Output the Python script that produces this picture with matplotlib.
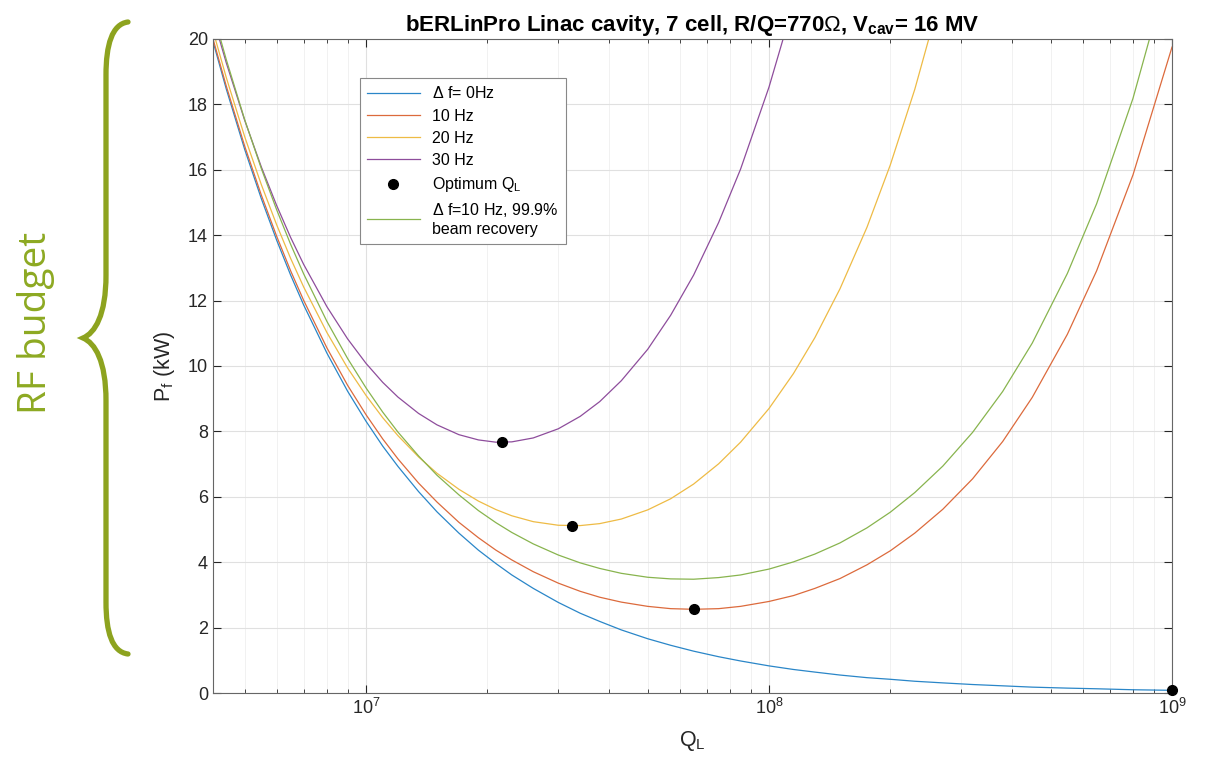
import matplotlib
matplotlib.use('Agg')
import matplotlib.pyplot as plt
from matplotlib.path import Path
from matplotlib.patches import PathPatch
from matplotlib.transforms import Affine2D

plt.rcParams['font.family'] = ['Liberation Sans', 'DejaVu Sans']
plt.rcParams['mathtext.fontset'] = 'custom'
plt.rcParams['mathtext.rm'] = 'Liberation Sans'
plt.rcParams['mathtext.it'] = 'Liberation Sans'
plt.rcParams['mathtext.bf'] = 'Liberation Sans:bold'

# 负载品质因数 Q_L（横轴）
ql = [4.17e6, 4.5e6, 5e6, 5.5e6, 6e6, 6.5e6, 7e6, 8e6, 9e6, 1e7,
      1.1e7, 1.2e7, 1.35e7, 1.5e7, 1.7e7, 1.9e7, 2.1e7, 2.3e7, 2.6e7, 3e7,
      3.4e7, 3.8e7, 4.3e7, 5e7, 5.7e7, 6.5e7, 7.5e7, 8.5e7, 1e8, 1.15e8,
      1.3e8, 1.5e8, 1.75e8, 2e8, 2.3e8, 2.7e8, 3.2e8, 3.8e8, 4.5e8, 5.5e8,
      6.5e8, 8e8, 1e9]

# 前向功率 P_f (kW)，各失谐量
pf_0hz = [19.93, 18.47, 16.62, 15.11, 13.85, 12.78, 11.87, 10.39, 9.23, 8.31,
          7.55, 6.93, 6.16, 5.54, 4.89, 4.37, 3.96, 3.61, 3.20, 2.77,
          2.44, 2.19, 1.93, 1.66, 1.46, 1.28, 1.11, 0.98, 0.83, 0.72,
          0.64, 0.55, 0.47, 0.42, 0.36, 0.31, 0.26, 0.22, 0.18, 0.15,
          0.13, 0.10, 0.083]
pf_10hz = [20.01, 18.56, 16.72, 15.22, 13.97, 12.91, 12.01, 10.55, 9.41, 8.51,
           7.77, 7.16, 6.42, 5.84, 5.22, 4.75, 4.37, 4.07, 3.71, 3.36,
           3.11, 2.93, 2.78, 2.65, 2.58, 2.56, 2.58, 2.65, 2.80, 2.98,
           3.20, 3.50, 3.92, 4.35, 4.89, 5.62, 6.55, 7.69, 9.04, 10.97,
           12.91, 15.84, 19.75]
pf_20hz = [20.26, 18.82, 17.01, 15.54, 14.32, 13.29, 12.42, 11.02, 9.94, 9.10,
           8.42, 7.87, 7.22, 6.72, 6.23, 5.87, 5.61, 5.42, 5.24, 5.13,
           5.12, 5.18, 5.32, 5.60, 5.94, 6.39, 7.01, 7.67, 8.70, 9.77,
           10.87, 12.36, 14.24, 16.15, 18.46, 21.55]
pf_30hz = [20.67, 19.27, 17.51, 16.08, 14.91, 13.93, 13.11, 11.81, 10.83, 10.08,
           9.50, 9.05, 8.55, 8.20, 7.90, 7.74, 7.67, 7.68, 7.80, 8.08,
           8.46, 8.91, 9.55, 10.51, 11.55, 12.78, 14.39, 16.02, 18.53, 21.08]
pf_recovery = [20.82, 19.37, 17.53, 16.03, 14.78, 13.72, 12.82, 11.36, 10.23, 9.33,
               8.59, 7.98, 7.25, 6.66, 6.06, 5.58, 5.21, 4.91, 4.56, 4.22,
               3.98, 3.81, 3.66, 3.54, 3.49, 3.48, 3.53, 3.61, 3.79, 4.01,
               4.25, 4.59, 5.05, 5.53, 6.13, 6.94, 7.97, 9.22, 10.70, 12.83,
               14.96, 18.18, 22.48]

# 最优 Q_L 点
opt_ql = [2.17e7, 3.25e7, 6.5e7, 1e9]
opt_pf = [7.67, 5.11, 2.56, 0.083]

fig = plt.figure(figsize=(12.12, 7.64), dpi=100)
ax = fig.add_axes([0.1757, 0.0929, 0.7913, 0.8561])

lw = 0.9
h0, = ax.plot(ql, pf_0hz, color='#2a86c8', linewidth=lw, label=r'$\Delta$ f= 0Hz')
h1, = ax.plot(ql, pf_10hz, color='#dc6a3c', linewidth=lw, label='10 Hz')
h2, = ax.plot(ql[:len(pf_20hz)], pf_20hz, color='#eebb45', linewidth=lw, label='20 Hz')
h3, = ax.plot(ql[:len(pf_30hz)], pf_30hz, color='#8e4d9c', linewidth=lw, label='30 Hz')
h5, = ax.plot(ql, pf_recovery, color='#88b44e', linewidth=lw,
              label='$\\Delta$ f=10 Hz, 99.9%\nbeam recovery')
h4, = ax.plot(opt_ql, opt_pf, 'o', color='black', markersize=7, linestyle='none',
              label='Optimum Q$_\\mathrm{L}$', clip_on=False, zorder=5)

ax.set_xscale('log')
ax.set_xlim(4.17e6, 1e9)
ax.set_ylim(0, 20)
ax.set_yticks(range(0, 21, 2))

ax.grid(True, which='major', color='#e0e0e0', linewidth=0.8)
ax.grid(True, which='minor', axis='x', color='#efefef', linewidth=0.6)
ax.set_axisbelow(True)

ax.tick_params(which='both', direction='in', top=True, right=True,
               labelsize=13, colors='#262626')
ax.tick_params(which='major', length=6)
ax.tick_params(which='minor', length=3)
for sp in ax.spines.values():
    sp.set_color('#666666')
    sp.set_linewidth(0.8)

ax.set_title('bERLinPro Linac cavity, 7 cell, R/Q=770$\\Omega$, V$_\\mathbf{cav}$= 16 MV',
             fontsize=16, fontweight='bold', pad=6)
ax.set_xlabel('Q$_\\mathrm{L}$', fontsize=15.5, color='#262626', labelpad=8)
ax.set_ylabel('P$_\\mathrm{f}$ (kW)', fontsize=15.5, color='#262626', labelpad=8)

leg = ax.legend(handles=[h0, h1, h2, h3, h4, h5], loc='upper left',
                bbox_to_anchor=(0.153, 0.94), fontsize=11.5, fancybox=False,
                framealpha=1, edgecolor='#888888', handlelength=3.3,
                labelspacing=0.45, borderpad=0.45, borderaxespad=0)
leg.get_frame().set_linewidth(0.8)

# 左侧 "RF budget" 大括号（像素坐标，y 轴向下）
px = Affine2D().scale(1 / 1212, -1 / 764).translate(0, 1) + fig.transFigure
verts = [(128, 22), (112, 24), (106, 45), (106, 75),
         (106, 275),
         (106, 315), (95, 333), (83, 338),
         (95, 343), (106, 361), (106, 401),
         (106, 602),
         (106, 632), (112, 652), (128, 654)]
codes = [Path.MOVETO, Path.CURVE4, Path.CURVE4, Path.CURVE4,
         Path.LINETO,
         Path.CURVE4, Path.CURVE4, Path.CURVE4,
         Path.CURVE4, Path.CURVE4, Path.CURVE4,
         Path.LINETO,
         Path.CURVE4, Path.CURVE4, Path.CURVE4]
brace = PathPatch(Path(verts, codes), facecolor='none', edgecolor='#8DA31F',
                  linewidth=3.8, capstyle='round', transform=px)
fig.add_artist(brace)
fig.text(36 / 1212, 1 - 323 / 764, 'RF budget', rotation=90, ha='center', va='center',
         fontsize=28, color='#8DA922', family=['Open Sans', 'DejaVu Sans'])

fig.savefig('out.png', dpi=100)
